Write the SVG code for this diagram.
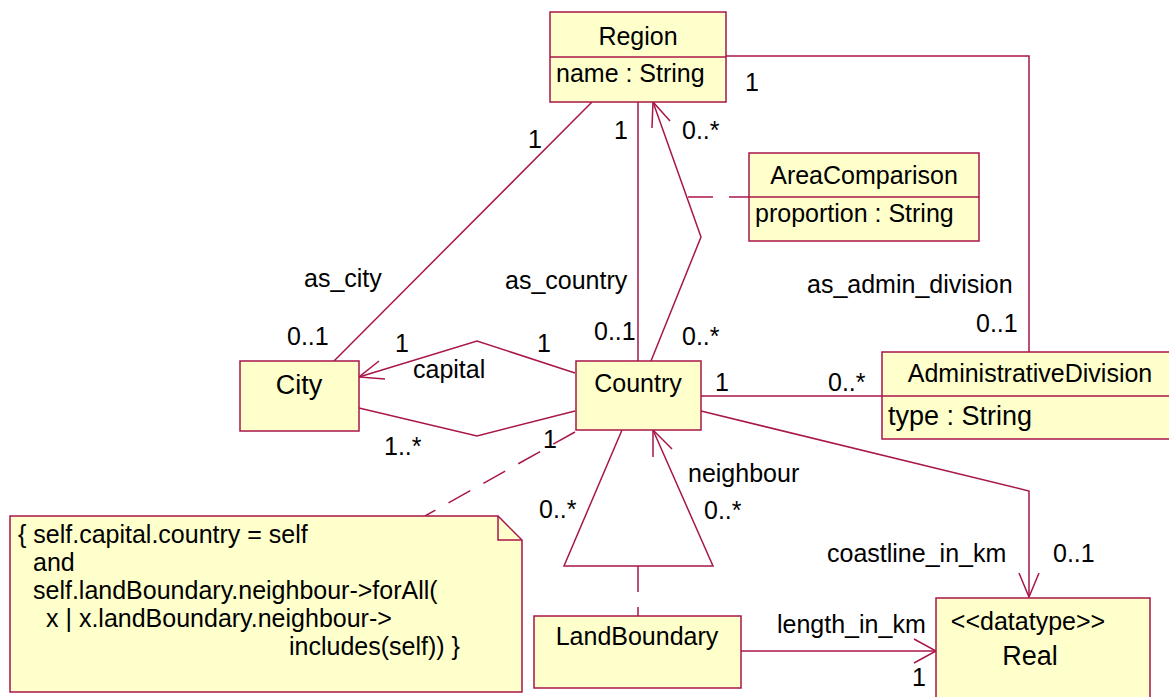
<svg xmlns="http://www.w3.org/2000/svg" width="1169" height="697" viewBox="0 0 1169 697">
<style>
  .box { fill: #FFFFCC; stroke: #A8164A; stroke-width: 1.5; }
  .ln { fill: none; stroke: #A8164A; stroke-width: 1.5; }
  .dash { fill: none; stroke: #A8164A; stroke-width: 1.5; stroke-dasharray: 25 15; }
  text { font-family: "Liberation Sans", Arial, sans-serif; font-size: 25px; fill: #000; }
  .c { text-anchor: middle; }
  .big { font-size: 27px; }
</style>
<rect width="1169" height="697" fill="#FFFFFF"/>
<g id="connectors">
  <!-- Region - City (as_city) -->
  <line class="ln" x1="592" y1="102" x2="334" y2="361"/>
  <!-- Region - Country (as_country) -->
  <line class="ln" x1="638" y1="102" x2="638" y2="361"/>
  <!-- Region - AdministrativeDivision -->
  <polyline class="ln" points="726,56 1029,56 1029,352"/>
  <!-- AreaComparison association Country -> Region -->
  <polyline class="ln" points="651,361 701,237 653,102"/>
  <polyline class="ln" points="652,128 653,102 670,121"/>
  <!-- association class dashed -->
  <polyline class="ln" points="688,197 713,197"/>
  <polyline class="ln" points="729,197 749,197"/>
  <!-- capital -->
  <polyline class="ln" points="575,373 477,341 359,377"/>
  <polyline class="ln" points="379,361 359,377 385,379"/>
  <!-- City - Country lower -->
  <polyline class="ln" points="359,408 477,436 575,411"/>
  <!-- Country - AdministrativeDivision -->
  <line class="ln" x1="701" y1="396" x2="882" y2="396"/>
  <!-- coastline_in_km -->
  <polyline class="ln" points="701,411 1029,491 1029,597"/>
  <polyline class="ln" points="1019,573 1029,597 1039,573"/>
  <!-- note anchor -->
  <line class="dash" x1="575" y1="432" x2="425" y2="516"/>
  <!-- neighbour triangle -->
  <polyline class="ln" points="622,430 564,566 713,566 653,430"/>
  <polyline class="ln" points="653,457 653,430 672,449"/>
  <polyline class="ln" points="638,566 638,592"/>
  <polyline class="ln" points="638,607 638,616"/>
  <!-- length_in_km -->
  <line class="ln" x1="741" y1="651" x2="936" y2="651"/>
  <polyline class="ln" points="914,639 936,651 914,663"/>
</g>
<g id="Region">
  <rect class="box" x="550" y="12" width="176" height="90"/>
  <line class="ln" x1="550" y1="57" x2="726" y2="57"/>
  <text class="c" x="638" y="45">Region</text>
  <text x="556" y="82">name : String</text>
</g>
<g id="AreaComparison">
  <rect class="box" x="749" y="153" width="230" height="88"/>
  <line class="ln" x1="749" y1="197" x2="979" y2="197"/>
  <text class="c" x="864" y="184">AreaComparison</text>
  <text x="755" y="222">proportion : String</text>
</g>
<g id="City">
  <rect class="box" x="240" y="361" width="119" height="70"/>
  <text class="c big" x="299" y="394">City</text>
</g>
<g id="Country">
  <rect class="box" x="576" y="361" width="125" height="69"/>
  <text class="c" x="638" y="392">Country</text>
</g>
<g id="AdministrativeDivision">
  <rect class="box" x="882" y="352" width="300" height="87"/>
  <line class="ln" x1="882" y1="396" x2="1169" y2="396"/>
  <text class="c" x="1030" y="382">AdministrativeDivision</text>
  <text class="big" x="888" y="425">type : String</text>
</g>
<g id="Note">
  <polygon class="box" points="10,516 498,516 522,540 522,692 10,692"/>
  <polyline class="ln" points="498,516 498,540 522,540"/>
  <text x="18" y="543">{ self.capital.country = self</text>
  <text x="33" y="571">and</text>
  <text x="33" y="599">self.landBoundary.neighbour-&gt;forAll(</text>
  <text x="46" y="627">x | x.landBoundary.neighbour-&gt;</text>
  <text x="289" y="655">includes(self)) }</text>
</g>
<g id="LandBoundary">
  <rect class="box" x="534" y="616" width="207" height="72"/>
  <text class="c" x="637" y="645">LandBoundary</text>
</g>
<g id="Real">
  <rect class="box" x="936" y="598" width="214" height="110"/>
  <text class="c" x="1028" y="630">&lt;&lt;datatype&gt;&gt;</text>
  <text class="c big" x="1030" y="665">Real</text>
</g>
<g id="labels">
  <text x="745" y="91">1</text>
  <text x="614" y="139">1</text>
  <text x="682" y="139">0..*</text>
  <text x="528" y="148">1</text>
  <text x="304" y="287">as_city</text>
  <text x="505" y="289">as_country</text>
  <text x="807" y="293">as_admin_division</text>
  <text x="976" y="332">0..1</text>
  <text x="682" y="345">0..*</text>
  <text x="287" y="345">0..1</text>
  <text x="594" y="340">0..1</text>
  <text x="395" y="352">1</text>
  <text x="537" y="352">1</text>
  <text x="413" y="378">capital</text>
  <text x="384" y="455">1..*</text>
  <text x="543" y="448">1</text>
  <text x="715" y="391">1</text>
  <text x="828" y="391">0..*</text>
  <text x="688" y="482">neighbour</text>
  <text x="539" y="518">0..*</text>
  <text x="704" y="519">0..*</text>
  <text x="827" y="562">coastline_in_km</text>
  <text x="1053" y="562">0..1</text>
  <text x="777" y="633">length_in_km</text>
  <text x="912" y="686">1</text>
</g>
</svg>
